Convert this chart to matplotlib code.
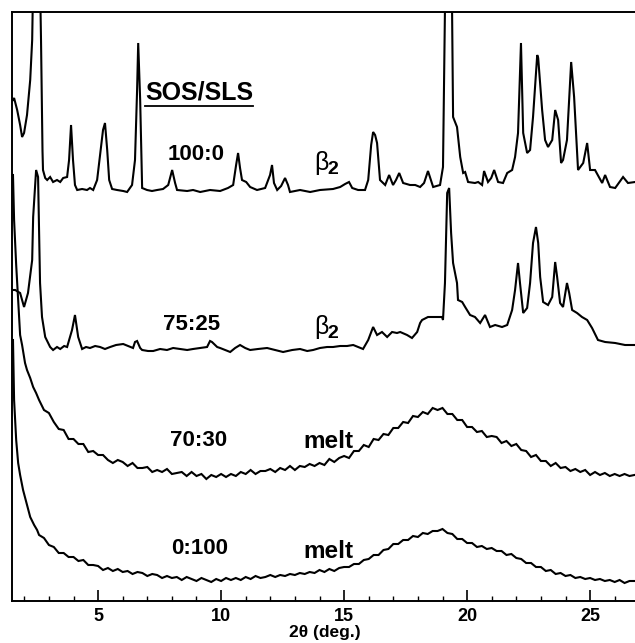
import numpy as np
import matplotlib.pyplot as plt
from matplotlib.ticker import MultipleLocator

# ---------- data (2theta in deg, offset intensity in a.u.) ----------
tt_100_0 = [1.54, 1.585, 1.71, 1.83, 1.91, 1.99, 2.11, 2.24, 2.32, 2.36, 2.50, 2.64, 2.68, 2.74,
            2.76, 2.85, 2.93, 3.05, 3.17, 3.33, 3.46, 3.58, 3.74, 3.82, 3.90, 3.98, 4.06, 4.15,
            4.35, 4.55, 4.67, 4.80, 4.96, 5.08, 5.20, 5.28, 5.37, 5.45, 5.57, 5.77, 6.02, 6.18,
            6.38, 6.50, 6.585, 6.63, 6.71, 6.79, 6.99, 7.19, 7.40, 7.64, 7.85, 8.01, 8.13, 8.21,
            8.62, 8.86, 9.15, 9.55, 9.96, 10.28, 10.49, 10.61, 10.69, 10.77, 10.85, 11.02, 11.18,
            11.46, 11.79, 11.99, 12.07, 12.15, 12.28, 12.44, 12.60, 12.72, 12.80, 13.21, 13.62,
            14.02, 14.55, 14.84, 15.04, 15.20, 15.33, 15.57, 15.85, 15.98, 16.10, 16.18, 16.26,
            16.34, 16.46, 16.67, 16.83, 16.99, 17.11, 17.24, 17.40, 17.68, 17.89, 18.09, 18.25,
            18.41, 18.62, 18.90, 19.02, 19.10, 19.25, 19.39, 19.43, 19.59, 19.72, 19.84, 19.92,
            20.04, 20.32, 20.45, 20.61, 20.69, 20.85, 20.98, 21.10, 21.26, 21.46, 21.63, 21.83,
            21.95, 22.07, 22.19, 22.28, 22.44, 22.56, 22.68, 22.85, 22.89, 23.05, 23.17, 23.29,
            23.46, 23.58, 23.70, 23.82, 23.90, 24.06, 24.23, 24.35, 24.51, 24.72, 24.88, 25.00,
            25.20, 25.49, 25.61, 25.81, 26.02, 26.34, 26.54, 26.83]
int_100_0 = [501, 503, 491, 476, 464, 468, 486, 521, 561, 620, 900, 620, 560, 450,
             431, 423, 421, 424, 419, 421, 419, 423, 424, 441, 476, 441, 416, 411,
             412, 411, 413, 411, 421, 446, 471, 478, 451, 421, 412, 411, 410, 409,
             416, 441, 511, 558, 501, 413, 411, 410, 411, 412, 416, 431, 418, 411,
             410, 411, 409, 411, 410, 413, 416, 436, 448, 433, 421, 419, 414,
             411, 413, 426, 436, 418, 411, 415, 423, 416, 409, 411, 409,
             411, 412, 414, 417, 419, 413, 411, 411, 421, 456, 469, 466,
             458, 421, 416, 426, 416, 421, 428, 418, 416, 416, 414, 418,
             430, 414, 416, 434, 588, 1000, 588, 484, 474, 444, 428, 429,
             419, 418, 419, 416, 430, 419, 423, 431, 419, 418, 428, 431,
             444, 468, 558, 468, 448, 451, 484, 546, 543, 491, 461, 454,
             461, 491, 481, 438, 441, 461, 539, 504, 431, 438, 458, 431,
             431, 418, 426, 414, 413, 424, 418, 419]

tt_75_25 = [1.50, 1.63, 1.83, 1.99, 2.15, 2.32, 2.36, 2.48, 2.56, 2.64, 2.72, 2.85, 3.05, 3.17,
            3.33, 3.46, 3.62, 3.74, 3.94, 4.06, 4.19, 4.35, 4.51, 4.67, 4.88, 5.08, 5.28, 5.49,
            5.73, 6.02, 6.22, 6.42, 6.50, 6.585, 6.71, 6.79, 7.03, 7.24, 7.52, 7.80, 8.05, 8.33,
            8.62, 8.86, 9.15, 9.43, 9.55, 9.63, 9.84, 9.96, 10.16, 10.37, 10.57, 10.77, 10.98,
            11.18, 11.50, 11.87, 12.19, 12.52, 12.89, 13.21, 13.50, 13.74, 14.02, 14.31, 14.55,
            14.84, 15.12, 15.37, 15.57, 15.77, 15.98, 16.18, 16.34, 16.54, 16.75, 16.95, 17.15,
            17.28, 17.56, 17.76, 17.97, 18.09, 18.17, 18.41, 18.70, 18.98, 19.02, 19.10, 19.19,
            19.27, 19.35, 19.43, 19.59, 19.63, 19.80, 19.92, 20.12, 20.32, 20.53, 20.73, 20.93,
            21.14, 21.42, 21.63, 21.83, 21.95, 22.07, 22.15, 22.28, 22.44, 22.56, 22.68, 22.80,
            22.89, 22.97, 23.09, 23.29, 23.46, 23.58, 23.66, 23.78, 23.90, 24.06, 24.15, 24.27,
            24.47, 24.67, 24.88, 25.08, 25.32, 25.61, 26.02, 26.42, 26.83]
int_75_25 = [311, 311, 308, 294, 308, 341, 384, 431, 424, 318, 284, 264, 254, 251,
             254, 252, 255, 254, 271, 286, 264, 252, 254, 253, 255, 254, 252, 254,
             256, 257, 255, 253, 259, 260, 253, 251, 250, 250, 252, 251, 253, 252,
             251, 252, 253, 254, 260, 259, 254, 253, 251, 249, 253, 256, 253,
             251, 252, 253, 251, 249, 251, 252, 250, 251, 253, 254, 254,
             255, 255, 256, 254, 252, 261, 274, 266, 269, 264, 269, 268,
             269, 266, 263, 269, 278, 281, 284, 284, 284, 281, 318, 408,
             413, 368, 338, 318, 301, 299, 294, 286, 284, 278, 286, 274,
             276, 274, 276, 291, 311, 338, 318, 288, 293, 318, 358, 374,
             358, 324, 299, 296, 304, 339, 324, 298, 294, 318, 308, 291,
             288, 284, 281, 273, 261, 259, 258, 256, 256]

tt_70_30 = [1.54, 1.585, 1.67, 1.75, 1.83, 1.91, 2.03, 2.11, 2.24, 2.36, 2.48,
            2.6, 2.8, 3.0, 3.2, 3.4, 3.6, 3.8, 4.0, 4.2, 4.4, 4.6, 4.8, 5.0, 5.2, 5.4, 5.6, 5.8,
            6.0, 6.2, 6.4, 6.6, 6.8, 7.0, 7.2, 7.4, 7.6, 7.8, 8.0, 8.2, 8.4, 8.6, 8.8, 9.0, 9.2,
            9.4, 9.6, 9.8, 10.0, 10.2, 10.4, 10.6, 10.8, 11.0, 11.2, 11.4, 11.6, 11.8, 12.0,
            12.2, 12.4, 12.6, 12.8, 13.0, 13.2, 13.4, 13.6, 13.8, 14.0, 14.2, 14.4, 14.6, 14.8,
            15.0, 15.2, 15.4, 15.6, 15.8, 16.0, 16.2, 16.4, 16.6, 16.8, 17.0, 17.2, 17.4, 17.6,
            17.8, 18.0, 18.2, 18.4, 18.6, 18.8, 19.0, 19.2, 19.4, 19.6, 19.8, 20.0, 20.2, 20.4,
            20.6, 20.8, 21.0, 21.2, 21.4, 21.6, 21.8, 22.0, 22.2, 22.4, 22.6, 22.8, 23.0, 23.2,
            23.4, 23.6, 23.8, 24.0, 24.2, 24.4, 24.6, 24.8, 25.0, 25.2, 25.4, 25.6, 25.8, 26.0,
            26.2, 26.4, 26.6, 26.8]
int_70_30 = [426, 381, 336, 301, 266, 256, 238, 231, 223, 214, 208,
             201, 191, 188, 179, 172, 171, 162, 162, 157, 157, 149, 150, 146, 146, 141, 138, 141,
             139, 135, 138, 133, 133, 134, 129, 131, 129, 132, 127, 128, 129, 125, 129, 125, 127,
             122, 126, 124, 127, 124, 127, 125, 129, 127, 131, 127, 130, 130, 132,
             129, 133, 131, 135, 131, 135, 134, 137, 135, 138, 136, 142, 139, 143,
             145, 143, 150, 150, 156, 154, 162, 161, 167, 166, 173, 173, 179, 178,
             185, 184, 189, 187, 193, 191, 193, 187, 187, 181, 181, 174, 174, 169,
             170, 164, 165, 164, 158, 160, 155, 157, 151, 150, 144, 146, 140, 140,
             135, 138, 133, 134, 130, 132, 129, 131, 126, 129, 126, 128, 125, 127,
             125, 127, 125, 126]

tt_0_100 = [1.54, 1.585, 1.67, 1.75, 1.83, 1.95, 2.11, 2.24, 2.40, 2.52,
            2.6, 2.8, 3.0, 3.2, 3.4, 3.6, 3.8, 4.0, 4.2, 4.4, 4.6, 4.8, 5.0, 5.2, 5.4, 5.6, 5.8,
            6.0, 6.2, 6.4, 6.6, 6.8, 7.0, 7.2, 7.4, 7.6, 7.8, 8.0, 8.2, 8.4, 8.6, 8.8, 9.0, 9.2,
            9.4, 9.6, 9.8, 10.0, 10.2, 10.4, 10.6, 10.8, 11.0, 11.2, 11.4, 11.6, 11.8, 12.0,
            12.2, 12.4, 12.6, 12.8, 13.0, 13.2, 13.4, 13.6, 13.8, 14.0, 14.2, 14.4, 14.6, 14.8,
            15.0, 15.2, 15.4, 15.6, 15.8, 16.0, 16.2, 16.4, 16.6, 16.8, 17.0, 17.2, 17.4, 17.6,
            17.8, 18.0, 18.2, 18.4, 18.6, 18.8, 19.0, 19.2, 19.4, 19.6, 19.8, 20.0, 20.2, 20.4,
            20.6, 20.8, 21.0, 21.2, 21.4, 21.6, 21.8, 22.0, 22.2, 22.4, 22.6, 22.8, 23.0, 23.2,
            23.4, 23.6, 23.8, 24.0, 24.2, 24.4, 24.6, 24.8, 25.0, 25.2, 25.4, 25.6, 25.8, 26.0,
            26.2, 26.4, 26.6, 26.8]
int_0_100 = [261, 201, 161, 138, 126, 111, 96, 84, 76, 71,
             66, 63, 56, 54, 48, 48, 44, 44, 40, 41, 36, 36, 35, 31, 33, 30, 32,
             29, 30, 27, 29, 28, 25, 27, 26, 23, 25, 23, 24, 21, 24, 22, 20, 23,
             21, 19, 22, 20, 23, 21, 23, 21, 24, 22, 25, 23, 24, 26,
             24, 26, 25, 27, 26, 28, 27, 29, 28, 31, 29, 32, 30, 33,
             34, 34, 37, 37, 41, 42, 46, 46, 51, 52, 57, 57, 61, 61,
             65, 64, 68, 67, 70, 70, 72, 68, 67, 62, 62, 58, 58, 54,
             55, 52, 53, 50, 50, 46, 47, 43, 42, 38, 38, 34, 34, 30,
             31, 27, 28, 25, 26, 23, 24, 22, 23, 21, 22, 20, 21, 19,
             21, 18, 20, 20]

ratio_labels = ["100:0", "75:25", "70:30", "0:100"]
phase_labels = ["β2", "β2", "melt", "melt"]

plt.rcParams["font.family"] = ["Liberation Sans", "DejaVu Sans"]

PX = 24.6      # pixels per degree in the reference
X0 = 1.016     # 2theta at pixel column 0


def to_x(px):
    return px / PX + X0


fig = plt.figure(figsize=(6.35, 6.43), dpi=100)
ax = fig.add_axes([12 / 635, 42 / 643, 1.0, 589 / 643])

for tt, inten in [(tt_100_0, int_100_0), (tt_75_25, int_75_25),
                  (tt_70_30, int_70_30), (tt_0_100, int_0_100)]:
    ax.plot(tt, inten, color="black", lw=1.5, solid_joinstyle="miter")

ax.set_xlim(1.5, 1.5 + 635 / PX)
ax.set_ylim(0, 589)

# header
ax.text(to_x(199), 601 - 93, "SOS/SLS", fontsize=18, fontweight="bold",
        ha="center", va="center")
ax.plot([to_x(145), to_x(253)], [601 - 106, 601 - 106], color="black", lw=1.3)

ratio_pos = [(196, 154), (191, 325), (198, 440), (200, 549)]
phase_pos = [(326, 163), (326, 327), (328, 441), (328, 551)]
for lab, (px, py) in zip(ratio_labels, ratio_pos):
    ax.text(to_x(px), 601 - py, lab, fontsize=16, fontweight="bold",
            ha="center", va="center")
for lab, (px, py) in zip(phase_labels, phase_pos):
    if lab == "β2":
        ax.text(to_x(px - 5), 601 - py, "β", fontsize=18, ha="center", va="center")
        ax.text(to_x(px + 7), 601 - py - 6, "2", fontsize=14, fontweight="bold",
                ha="center", va="center")
    else:
        ax.text(to_x(px), 601 - py, lab, fontsize=17.5, fontweight="bold",
                ha="center", va="center")

ax.xaxis.set_major_locator(MultipleLocator(5))
ax.xaxis.set_minor_locator(MultipleLocator(1))
ax.tick_params(axis="x", which="major", direction="in", length=8, width=1.2,
               labelsize=13, pad=5)
ax.tick_params(axis="x", which="minor", direction="in", length=3.8, width=1.0)
for lab in ax.get_xticklabels():
    lab.set_fontweight("bold")
ax.set_yticks([])
ax.set_xlabel("2θ (deg.)", fontsize=12.5, fontweight="bold")
ax.xaxis.set_label_coords((325 - 12) / 635, -0.04)
for s in ["left", "bottom", "top", "right"]:
    ax.spines[s].set_linewidth(1.4)

fig.savefig("out.png", dpi=100)
